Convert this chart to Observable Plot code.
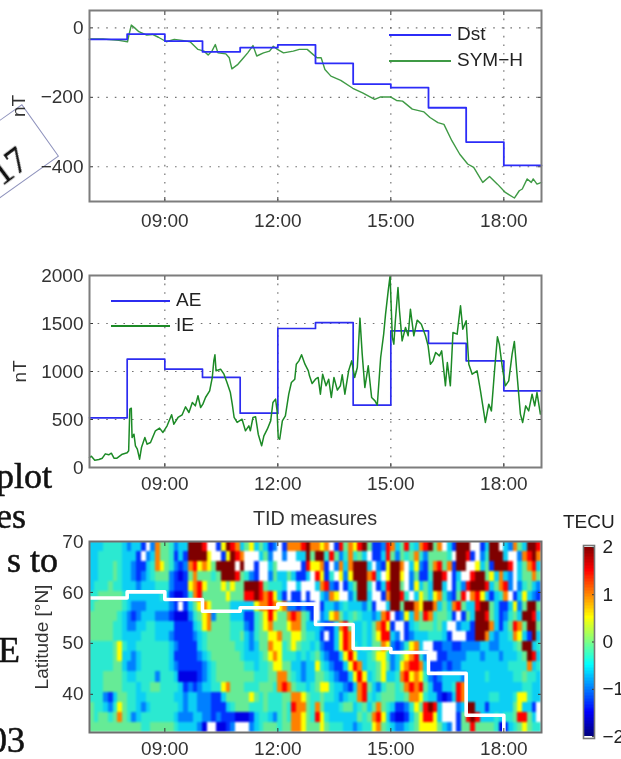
<!DOCTYPE html>
<html><head><meta charset="utf-8">
<script src="https://cdn.jsdelivr.net/npm/d3@7"></script>
<script src="https://cdn.jsdelivr.net/npm/@observablehq/plot@0.6"></script>
<style>
html,body{margin:0;padding:0;background:#fff;width:621px;height:759px;overflow:hidden}
#page{position:relative;width:621px;height:759px;overflow:hidden;font-family:"Liberation Sans",sans-serif;color:#2a2a2a}
#page svg{position:absolute;left:0;background:transparent;filter:blur(.55px);overflow:visible}
.t{position:absolute;white-space:nowrap;filter:blur(.4px)}
.s{font-family:"Liberation Serif",serif;color:#111;font-size:36px;line-height:1;-webkit-text-stroke:.55px #111}
.k{position:absolute;height:0;width:62px;filter:blur(.3px)}
#box{position:absolute;left:22px;top:104px;width:64px;height:110px;border:1.4px solid #8f93bd;transform-origin:0 0;transform:rotate(54.6deg);box-sizing:border-box}
</style></head><body><div id="page"></div>
<script>
const hourTicks = [9, 12, 15, 18];
const stepHours = [7, 8, 9, 10, 11, 12, 13, 14, 15, 16, 17, 18, 19];
const dst = [-33, -18, -38, -69, -57, -49, -102, -162, -172, -230, -329, -396, -396];
const ae = [517, 1128, 1024, 938, 566, 1448, 1510, 649, 1424, 1292, 1111, 799, 799];
const boundaryHours = [7, 8, 9, 10, 11, 12, 13, 14, 15, 16, 17, 18, 18];
const boundaryLat = [58.9, 60.1, 58.6, 56.3, 57.0, 57.7, 53.7, 49.0, 48.2, 44.1, 35.9, 35.9, 32.5];

const symHours = [7,7.36,7.78,8.01,8.05,8.11,8.2,8.31,8.52,8.67,8.83,9.04,9.25,9.46,9.67,9.88,10.04,10.15,10.25,10.34,10.41,10.62,10.71,10.78,10.94,11.09,11.2,11.34,11.44,11.62,11.78,11.88,11.99,12.15,12.41,12.57,12.78,12.94,13.04,13.15,13.25,13.41,13.67,13.99,14.25,14.57,14.73,14.99,15.15,15.31,15.57,15.88,16.04,16.25,16.41,16.62,16.83,17.04,17.2,17.44,17.62,17.83,18.04,18.28,18.41,18.49,18.62,18.73,18.78,18.88,19];
const symH = [-32,-32,-36,-40,-19,8,0,-11,-21,-19,-27,-40,-33,-36,-40,-62,-67,-78,-67,-48,-72,-75,-86,-118,-105,-86,-72,-51,-81,-72,-67,-53,-62,-72,-67,-62,-62,-77,-86,-86,-120,-139,-151,-174,-187,-206,-199,-199,-209,-211,-234,-242,-258,-273,-278,-325,-364,-392,-402,-445,-428,-450,-474,-490,-469,-464,-435,-445,-435,-450,-445];

const ieHours = [7,7.05,7.14,7.25,7.34,7.42,7.51,7.58,7.65,7.73,7.87,8,8.04,8.07,8.11,8.13,8.18,8.22,8.27,8.33,8.38,8.47,8.53,8.62,8.75,8.86,8.95,9.06,9.18,9.24,9.35,9.46,9.55,9.64,9.73,9.81,9.88,9.95,10.01,10.08,10.19,10.26,10.3,10.33,10.36,10.48,10.57,10.65,10.74,10.79,10.84,10.92,11.05,11.14,11.23,11.27,11.34,11.41,11.48,11.57,11.63,11.72,11.81,11.87,11.94,11.98,12.01,12.05,12.12,12.2,12.29,12.36,12.45,12.49,12.56,12.63,12.72,12.81,12.84,12.91,13,13.07,13.13,13.19,13.28,13.35,13.42,13.49,13.58,13.66,13.71,13.78,13.88,13.96,14.04,14.11,14.18,14.24,14.31,14.4,14.49,14.58,14.64,14.73,14.81,14.86,14.93,14.98,15.04,15.08,15.12,15.19,15.23,15.3,15.39,15.46,15.52,15.61,15.7,15.81,15.92,15.99,16.05,16.12,16.19,16.29,16.35,16.45,16.5,16.58,16.65,16.76,16.85,16.91,17,17.07,17.16,17.29,17.38,17.51,17.6,17.67,17.76,17.83,17.88,17.96,18.04,18.13,18.22,18.28,18.35,18.44,18.5,18.58,18.66,18.75,18.82,18.88,18.97,19];
const ie = [104,118,76,83,97,142,132,149,97,97,139,153,174,608,618,312,347,226,191,87,208,312,243,260,382,410,365,434,549,451,521,549,632,573,677,642,747,625,660,729,799,938,1111,1174,1007,1024,972,885,781,660,521,469,503,382,434,382,521,528,347,226,330,399,486,677,712,590,312,295,486,538,764,885,920,1076,1111,1174,1076,1007,955,875,920,938,764,972,851,920,729,938,806,851,965,764,1007,1111,938,1042,1556,1181,833,1059,729,694,649,1146,1389,1597,1840,1997,1354,1285,1528,1875,1632,1319,1458,1372,1649,1372,1535,1493,1372,1267,1076,1111,1198,1163,1215,851,1094,851,1406,1389,1684,1441,1528,1076,972,1007,799,469,660,590,1042,1361,1285,1042,851,903,1181,1313,972,556,469,642,590,764,642,781,556,590];

// TEC map, read by eye: 19 latitude rows (top to bottom), 96 time columns.
// Symbols are levels, see tecLevels; w = out of range (drawn white).
const tecLevels = {"0":-1.8,"1":-1.45,"2":-1,"3":-.62,"4":-.36,"5":-.1,"6":.5,"7":1,"8":1.5,"9":2};
const tecRows = [
"33344443 2331w275 54233999 8ww16987 35635312 w1777897 767w1857 68951128 73584378 957w3199 9ww1399w 32753998",
"33444443 331w2375 54131999 96ww1698 7www352w w2ww3395 99485247 453w1138 52545742 55554w99 81w24999 3ww27897",
"33444543 32113476 54212786 7659999w 9ww1ww35 wwwww186 671w2737 9993w216 997w3621 57857199 ww635199 98w35783",
"33444543 32123455 52101575 55459998 5421ww25 3353113w 8614w626 999783w6 996w2511 4998w13w w8995637 32w35575",
"34445443 33233344 42111678 65556565 59998544 43ww3www 37821w13 5994w138 995w2635 3993w142 89998357 82w24532",
"44555554 33333334 31001478 55555655 58898786 31w11w1w w3276ww2 4993ww17 9984w365 36742158 w7863134 7w136321",
"45555554 32223333 321w1356 76555533 33367787 67221211 w1332343 33241ww3 99599769 97353785 33899531 13625995",
"55555543 21233322 21000245 67255533 31145686 55787541 w2367534 54332378 w1263758 745541w1 53998531 24539983",
"55555443 22334433 33111134 67555544 42145675 55677533 32113785 33435786 1ww13455 5453ww23 31999731 35875995",
"55555443 33344433 32111123 45555544 53245566 75566544 31w13687 33435688 32w12333 44431www 11997323 34763193",
"44444564 33444444 43211113 45555554 43235576 64565443 42113687 43435576 2124673w w1122112 22233223 33459934",
"44444563 32344444 43111112 34555555 43334567 64443434 53211368 63345664 23567842 ww112222 33323332 33345983",
"44444553 22344444 43211111 23455555 54434456 65533233 64321136 87344565 23678873 11121223 33333333 34444734",
"44455554 33444424 44300001 23455555 55544455 77543233 55432113 68634563 34786764 21233332 33334333 33445443",
"44455554 44344554 44431212 33446755 54445554 78754434 56643321 37853245 54578785 31133487 33333333 33334433",
"44421355 44334444 44332332 22113555 55654544 45577654 45443234 47843455 54457764 33101387 33333443 33466433",
"54432465 44323444 44432332 22111345 55444544 45487754 75333455 34535754 31124658 983www23 99331333 3356331w",
"54554575 42344444 44322233 22121110 00134432 45477654 86433333 35457863 10013568 863www15 89833343 4458853w",
"55555555 55544555 55433332 0ww0012w ww234555 45577655 56544433 23446754 32234566 66532w15 58555540 13456544"
];

const jetDomain = [-2, -1.75, -1, -.5, -.25, 0, .25, .5, 1, 1.5, 2];
const jetRange = ["#00007f","#0000ff","#0080ff","#10e8f0","#40eab8","#80ec80","#b8f050","#ffff00","#ff8000","#ff0000","#7f0000"];

const page = document.getElementById("page");
const X0 = 89, X1 = 541, W = 621;
const FS = 19;
const hhmm = h => String(h).padStart(2, "0") + ":00";
const minus = v => String(v).replace("-", "\u2212");

function frameAxes(yTicks, yLabel, labelOffset, grid, xPad) {
  const gridStyle = {stroke: "#444", strokeOpacity: .75, strokeDasharray: "1.6,7", strokeWidth: 1.2};
  return [
    grid ? Plot.gridX(hourTicks, gridStyle) : null,
    grid ? Plot.gridY(yTicks, gridStyle) : null,
    Plot.axisX(hourTicks, {anchor: "bottom", tickSize: -4, tickPadding: xPad, tickFormat: hhmm, label: null, stroke: "#333", fontSize: FS, fill: "#333"}),
    Plot.axisX(hourTicks, {anchor: "top", tickSize: -4, tickFormat: () => "", label: null, stroke: "#333"}),
    Plot.axisY(yTicks, {anchor: "left", tickSize: -4, tickPadding: 10, tickFormat: minus, label: yLabel, labelAnchor: "center", labelArrow: "none", labelOffset, stroke: "#333", fontSize: FS, fill: "#333"}),
    Plot.axisY(yTicks, {anchor: "right", tickSize: -4, tickFormat: () => "", label: null, stroke: "#333"})
  ];
}
function place(svg, top) { svg.style.top = top + "px"; page.appendChild(svg); }
function html(cls, text, css) {
  const d = document.createElement("div"); d.className = cls; d.textContent = text;
  d.style.cssText = css; page.appendChild(d); return d;
}

// words of the page lying behind the figure
const box = document.createElement("div"); box.id = "box"; page.appendChild(box);
html("t s", "17", "left:-9px;top:148px;font-size:36px;transform:rotate(-37deg);transform-origin:50% 50%;");
html("t s", "plot", "right:569px;top:458px;");
html("t s", "es", "right:595px;top:498px;");
html("t s", "s to", "right:563px;top:542px;");
html("t s", "E", "right:601px;top:632px;");
html("t s", "03", "right:596px;top:722px;");

// Panel 1
place(Plot.plot({
  width: W, height: 232, marginLeft: X0, marginRight: W - X1, marginTop: 10, marginBottom: 31,
  x: {domain: [7, 19], axis: null},
  y: {domain: [-500, 50], axis: null},
  style: {fontFamily: "Liberation Sans", fontSize: FS + "px"},
  marks: [
    ...frameAxes([0, -200, -400], "nT", 78, true, 16),
    Plot.line(symHours, {x: d => d, y: (d, i) => symH[i], stroke: "#3f9a45", strokeWidth: 1.4, curve: "linear"}),
    Plot.line(stepHours, {x: d => d, y: (d, i) => dst[i], stroke: "#2c2cf8", strokeWidth: 1.8, curve: "step-after"}),
    Plot.frame({stroke: "#7d7d7d", strokeWidth: 2})
  ]
}), 0);

// Panel 2
place(Plot.plot({
  width: W, height: 228, marginLeft: X0, marginRight: W - X1, marginTop: 6, marginBottom: 30,
  x: {domain: [7, 19], axis: null},
  y: {domain: [0, 2000], axis: null},
  style: {fontFamily: "Liberation Sans", fontSize: FS + "px"},
  marks: [
    ...frameAxes([0, 500, 1000, 1500, 2000], "nT", 77, true, 13),
    Plot.line(stepHours, {x: d => d, y: (d, i) => ae[i], stroke: "#2c2cf0", strokeWidth: 1.7, curve: "step-after"}),
    Plot.line(ieHours, {x: d => d, y: (d, i) => ie[i], stroke: "#1c8a26", strokeWidth: 1.5}),
    Plot.frame({stroke: "#7d7d7d", strokeWidth: 2})
  ]
}), 269);

// Panel 3
const cols = 96, rowDeg = 10.05 / 5.1, colHr = 12 / cols;
const tecCells = tecRows.flatMap((row, r) => Array.from(row.replace(/ /g, ""), (ch, c) => ({
  h1: 7 + c * colHr, h2: 7 + (c + 1) * colHr,
  lat1: r === tecRows.length - 1 ? 32.5 : 70 - (r + 1) * rowDeg, lat2: 70 - r * rowDeg,
  v: ch === "w" ? null : tecLevels[ch]
})));
place(Plot.plot({
  width: W, height: 229, marginLeft: X0, marginRight: W - X1, marginTop: 6, marginBottom: 32,
  x: {domain: [7, 19], axis: null},
  y: {domain: [32.5, 70], axis: null},
  color: {type: "linear", domain: jetDomain, range: jetRange, clamp: true},
  style: {fontFamily: "Liberation Sans", fontSize: FS + "px"},
  marks: [
    Plot.rect(tecCells.filter(d => d.v !== null), {x1: "h1", x2: "h2", y1: "lat1", y2: "lat2", fill: "v", inset: 0, shapeRendering: "crispEdges", imageFilter: "blur(1.1px)", clip: "frame"}),
    Plot.line(boundaryHours, {x: d => d, y: (d, i) => boundaryLat[i], stroke: "#fff", strokeWidth: 3.6, curve: "step-after"}),
    ...frameAxes([40, 50, 60, 70], "Latitude [°N]", 55, false, 13),
    Plot.frame({stroke: "#6f6f6f", strokeWidth: 2})
  ]
}), 535);

// Colour bar
const barSteps = d3.range(-2, 2, 4 / 128);
place(Plot.plot({
  width: W, height: 759 - 535, marginLeft: 583, marginRight: W - 594, marginTop: 10, marginBottom: 21,
  x: {domain: [0, 1], axis: null},
  y: {domain: [-2.04, 2.04], axis: null},
  color: {type: "linear", domain: [-2, -1.5, -1, -.5, 0, .5, 1, 1.5, 2], range: ["#00007f","#0000ff","#0080ff","#00ffff","#80ff80","#ffff00","#ff8000","#ff0000","#7f0000"]},
  style: {fontFamily: "Liberation Sans", fontSize: FS + "px"},
  marks: [
    Plot.rect(barSteps, {x1: 0, x2: 1, y1: d => d, y2: d => d + 4 / 128, fill: d => d, shapeRendering: "crispEdges"}),
    Plot.axisY([-2, -1, 0, 1, 2], {anchor: "right", tickSize: -3, tickPadding: 11, tickFormat: minus, label: null, stroke: "#333", fill: "#222", fontSize: FS}),
    Plot.frame({stroke: "#777", strokeWidth: 1.6})
  ]
}), 535);

// Titles and legends
html("t", "TID measures", `left:253px;top:507px;font-size:19.8px;color:#333;`);
html("t", "TECU", "left:563px;top:511px;font-size:19px;color:#222;");
function key(x, y, color, w, textX, label) {
  const k = document.createElement("div"); k.className = "k";
  k.style.cssText = `left:${x}px;top:${y}px;width:${w}px;border-top:2px solid ${color};`;
  page.appendChild(k);
  html("t", label, `left:${textX}px;top:${y-11}px;font-size:${FS}px;color:#222;`);
}
key(389, 34, "#2c2cf8", 62, 457, "Dst");
key(389, 60, "#3f9a45", 62, 457, "SYM\u2212H");
key(111, 300, "#2c2cf0", 59, 176, "AE");
key(111, 325, "#1c8a26", 59, 176, "IE");
</script></body></html>
